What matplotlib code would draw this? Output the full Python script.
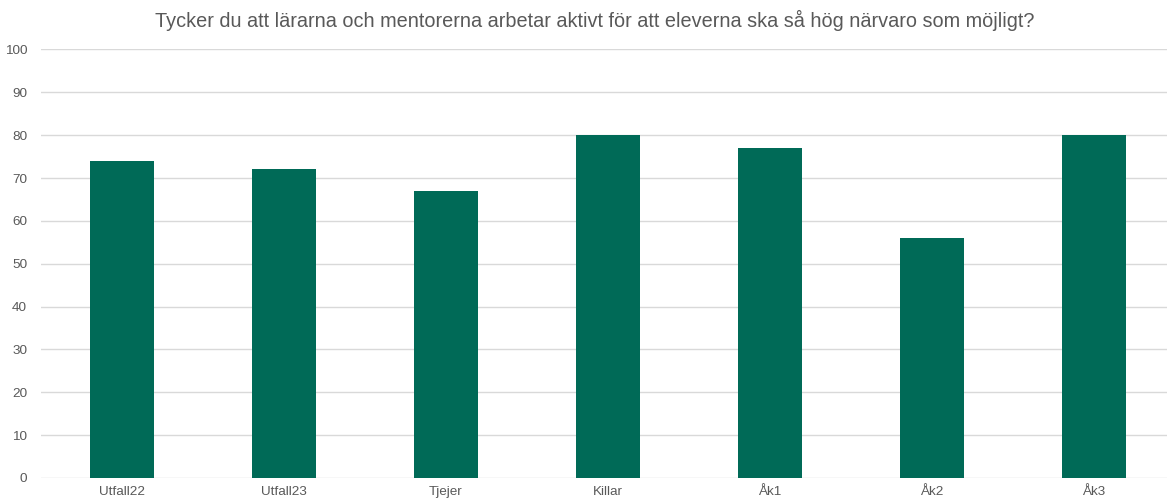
import matplotlib
matplotlib.use("Agg")
import numpy as np
import matplotlib.pyplot as plt

# data
categories = ["Utfall22", "Utfall23", "Tjejer", "Killar", "Åk1", "Åk2", "Åk3"]
values = [74, 72, 67, 80, 77, 56, 80]
yticks = list(range(0, 101, 10))
title = "Tycker du att lärarna och mentorerna arbetar aktivt för att eleverna ska så hög närvaro som möjligt?"

plt.rcParams["font.family"] = ["Liberation Sans", "DejaVu Sans"]
grey = "#595959"

W, H = 1167, 499
fig = plt.figure(figsize=(W / 100, H / 100), dpi=100)
# plot area in pixels: x 41..1167 (clipped on the right), y 49.5..478
ax = fig.add_axes([41 / W, 1 - 478 / H, (W - 41) / W, (478 - 49.5) / H])

x = np.arange(len(categories))
ax.bar(x, values, width=0.4, color="#006A57", zorder=3)

ax.set_ylim(0, 100)
ax.set_xlim(-0.5, (W - 41) / 162 - 0.5)
ax.set_yticks(yticks)
ax.set_xticks(x)
ax.set_xticklabels(categories)
ax.grid(axis="y", color="#D9D9D9", linewidth=1, zorder=0)
ax.tick_params(axis="both", length=0, labelsize=9.7, colors=grey)
ax.tick_params(axis="y", pad=10)
ax.tick_params(axis="x", pad=6)
for s in ax.spines.values():
    s.set_visible(False)

fig.text(595 / W, 1 - 20 / H, title, ha="center", va="center", fontsize=14.3, color=grey)

fig.savefig("out.png", dpi=100)
